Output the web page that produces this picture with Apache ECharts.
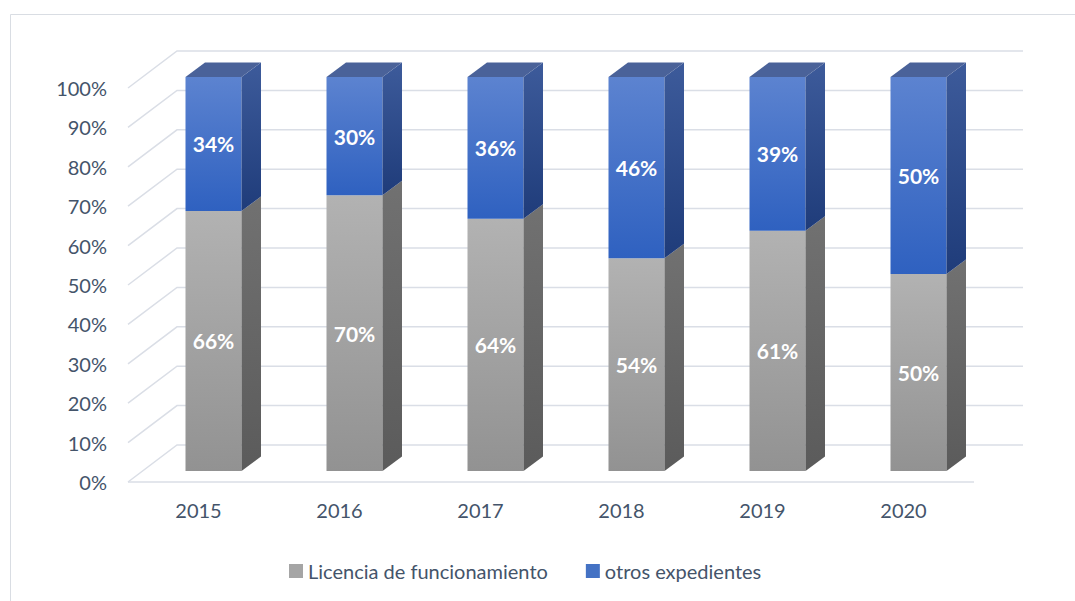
<!DOCTYPE html>
<html>
<head>
<meta charset="utf-8">
<script src="https://cdn.jsdelivr.net/npm/echarts@6/dist/echarts.min.js"></script>
<style>
html,body{margin:0;padding:0;background:#fff;}
#chart{width:1075px;height:601px;}
</style>
</head>
<body>
<div id="chart"></div>
<script>
var years = ['2015', '2016', '2017', '2018', '2019', '2020'];
var licencia = [66, 70, 64, 54, 61, 50];
var otros = [34, 30, 36, 46, 39, 50];
var yTicks = [0, 10, 20, 30, 40, 50, 60, 70, 80, 90, 100];
var seriesNames = ['Licencia de funcionamiento', 'otros expedientes'];

var BACK_DX = 49, BACK_DY = -37;   // back wall offset from front plane
var BAR_DX = 15, BAR_DY = -11;     // bar front face offset from front plane
var BAR_W = 56, DEPTH_DX = 19.5, DEPTH_DY = -14.5;

var styles = {
  gray: {
    front: ['#b2b2b2', '#929292'],
    side: ['#717171', '#5b5b5b'],
    top: '#8a8a8a'
  },
  blue: {
    front: ['#5c83d0', '#2f61c0'],
    side: ['#3d5b9b', '#1f3c7a'],
    top: '#4a6299'
  }
};

function grad(c) {
  return {type: 'linear', x: 0, y: 0, x2: 0, y2: 1,
    colorStops: [{offset: 0, color: c[0]}, {offset: 1, color: c[1]}]};
}

function barRender(st, isTop) {
  return function (params, api) {
    var idx = api.value(0), v0 = api.value(1), v1 = api.value(2);
    var pb = api.coord([idx, v0]);
    var pt = api.coord([idx, v1]);
    var cx = pb[0] + BAR_DX;
    var x = cx - BAR_W / 2, x2 = cx + BAR_W / 2;
    var yb = pb[1] + BAR_DY, yt = pt[1] + BAR_DY;
    var children = [
      {type: 'rect', shape: {x: x, y: yt, width: BAR_W, height: yb - yt},
        style: {fill: grad(st.front)}},
      {type: 'polygon', shape: {points: [[x2, yb], [x2, yt], [x2 + DEPTH_DX, yt + DEPTH_DY], [x2 + DEPTH_DX, yb + DEPTH_DY]]},
        style: {fill: grad(st.side)}}
    ];
    if (isTop) {
      children.push({type: 'polygon', shape: {points: [[x, yt], [x2, yt], [x2 + DEPTH_DX, yt + DEPTH_DY], [x + DEPTH_DX, yt + DEPTH_DY]]},
        style: {fill: st.top}});
    }
    children.push({type: 'text', style: {
      text: Math.round(v1 - v0) + '%', x: cx, y: (yt + yb) / 2,
      align: 'center', verticalAlign: 'middle',
      fill: '#ffffff', font: 'bold 21px Lato'}});
    return {type: 'group', children: children};
  };
}

function gridRender(params, api) {
  var v = api.value(1);
  var p = api.coord([0, v]);
  var x0 = params.coordSys.x, x1 = params.coordSys.x + params.coordSys.width;
  var y = p[1];
  var lineStyle = {stroke: '#dadee6', lineWidth: 1.5, fill: null};
  var children = [
    {type: 'polyline', shape: {points: [[x0, y], [x0 + BACK_DX, y + BACK_DY], [x1 + BACK_DX, y + BACK_DY]]}, style: lineStyle}
  ];
  if (v === 0) {
    children.push({type: 'line', shape: {x1: x0, y1: y, x2: x1, y2: y}, style: lineStyle});
  }
  return {type: 'group', children: children};
}

var grayData = years.map(function (y, i) { return [i, 0, licencia[i]]; });
var blueData = years.map(function (y, i) { return [i, licencia[i], licencia[i] + otros[i]]; });
var tickData = yTicks.map(function (t) { return [0, t]; });

var chart = echarts.init(document.getElementById('chart'), null, {renderer: 'svg'});
chart.setOption({
  animation: false,
  backgroundColor: '#ffffff',
  graphic: [{
    type: 'rect', shape: {x: 10.5, y: 14.5, width: 1200, height: 800},
    style: {fill: null, stroke: '#d9dde3', lineWidth: 1}, silent: true, z: -10
  }],
  grid: {left: 128, top: 88, width: 846, height: 394},
  xAxis: {
    type: 'category', data: years,
    axisLine: {show: false}, axisTick: {show: false},
    axisLabel: {color: '#44546a', fontFamily: 'Lato', fontSize: 20, margin: 18},
    splitLine: {show: false}
  },
  yAxis: {
    type: 'value', min: 0, max: 100, interval: 10,
    axisLine: {show: false}, axisTick: {show: false}, splitLine: {show: false},
    axisLabel: {color: '#44546a', fontFamily: 'Lato', fontSize: 20, margin: 21,
      formatter: function (v) { return v + '%'; }}
  },
  legend: {
    data: seriesNames, left: 284, top: 556,
    icon: 'rect', itemWidth: 14, itemHeight: 14, itemGap: 38,
    textStyle: {color: '#44546a', fontFamily: 'Lato', fontSize: 20}
  },
  series: [
    {type: 'custom', name: 'grid', data: tickData, renderItem: gridRender, clip: false, silent: true, z: 1},
    {type: 'custom', name: seriesNames[0], data: grayData, renderItem: barRender(styles.gray, false),
      itemStyle: {color: '#a5a5a5'}, clip: false, z: 2},
    {type: 'custom', name: seriesNames[1], data: blueData, renderItem: barRender(styles.blue, true),
      itemStyle: {color: '#4472c4'}, clip: false, z: 3}
  ]
});
</script>
</body>
</html>
